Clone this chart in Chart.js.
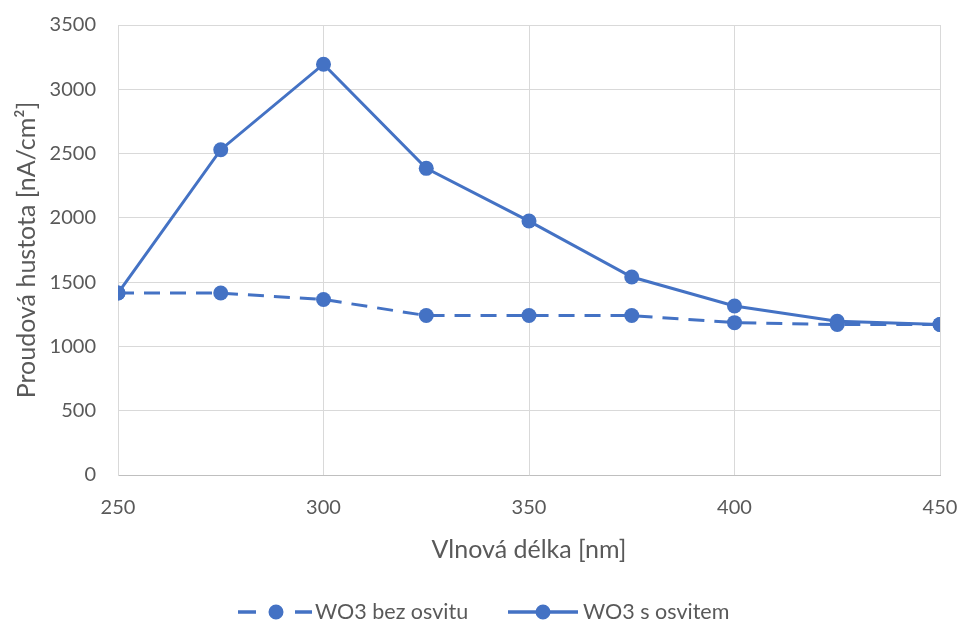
<!DOCTYPE html>
<html>
<head>
<meta charset="utf-8">
<script src="https://cdn.jsdelivr.net/npm/chart.js@4/dist/chart.umd.min.js"></script>
<style>
  html, body { margin: 0; padding: 0; background: #fff; }
  #wrap { width: 959px; height: 625px; position: relative; }
</style>
</head>
<body>
<div id="wrap"><canvas id="chart"></canvas></div>
<script>
// wavelengths (nm)
var wavelengths = [250, 275, 300, 325, 350, 375, 400, 425, 450];
// current density without light
var bezOsvitu = [1415, 1415, 1365, 1240, 1240, 1240, 1185, 1170, 1170];
// current density with light
var sOsvitem = [1415, 2530, 3195, 2385, 1975, 1540, 1315, 1195, 1170];

var seriesNames = ['WO3 bez osvitu', 'WO3 s osvitem'];
var blue = '#4472C4';
var fontFam = 'Lato, "Open Sans", sans-serif';

function toPoints(ys) {
  var pts = [];
  for (var i = 0; i < wavelengths.length; i++) {
    pts.push({ x: wavelengths[i], y: ys[i] });
  }
  return pts;
}

// legend drawn on canvas so it can show line + marker like the original
var legendPlugin = {
  id: 'lineLegend',
  afterDraw: function(chart) {
    var ctx = chart.ctx;
    var y = 612;
    ctx.save();
    ctx.font = '21.5px ' + fontFam;
    ctx.textBaseline = 'middle';
    ctx.strokeStyle = blue;
    ctx.lineWidth = 3.5;
    // dashed series sample
    ctx.beginPath();
    ctx.moveTo(238, y); ctx.lineTo(256, y);
    ctx.moveTo(295, y); ctx.lineTo(312, y);
    // solid series sample
    ctx.moveTo(508, y); ctx.lineTo(578, y);
    ctx.stroke();
    ctx.fillStyle = blue;
    ctx.beginPath();
    ctx.arc(276, y, 7.5, 0, Math.PI * 2);
    ctx.arc(543, y, 7.5, 0, Math.PI * 2);
    ctx.fill();
    ctx.fillStyle = '#595959';
    ctx.fillText(seriesNames[0], 315, y);
    ctx.fillText(seriesNames[1], 583, y);
    ctx.restore();
  }
};

var ctx = document.getElementById('chart').getContext('2d');
new Chart(ctx, {
  type: 'line',
  data: {
    datasets: [
      {
        label: seriesNames[0],
        data: toPoints(bezOsvitu),
        borderColor: blue,
        backgroundColor: blue,
        borderWidth: 3,
        borderDash: [16, 10],
        pointRadius: 7.5,
        pointHoverRadius: 7.5,
        pointBorderWidth: 0,
        tension: 0
      },
      {
        label: seriesNames[1],
        data: toPoints(sOsvitem),
        borderColor: blue,
        backgroundColor: blue,
        borderWidth: 3,
        pointRadius: 7.5,
        pointHoverRadius: 7.5,
        pointBorderWidth: 0,
        tension: 0
      }
    ]
  },
  options: {
    responsive: true,
    maintainAspectRatio: false,
    animation: false,
    layout: { padding: { left: 12, right: 19, top: 25, bottom: 50 } },
    plugins: {
      legend: { display: false },
      tooltip: { enabled: false }
    },
    scales: {
      x: {
        type: 'linear',
        min: 250,
        max: 450,
        ticks: {
          stepSize: 50,
          color: '#595959',
          font: { family: fontFam, size: 20 },
          padding: 21,
          callback: function(v) { return String(v); }
        },
        grid: { color: '#d9d9d9', lineWidth: 1, drawTicks: false },
        border: { color: '#bfbfbf', width: 1 },
        title: {
          display: true,
          text: 'Vlnová délka [nm]',
          color: '#595959',
          font: { family: fontFam, size: 25 },
          padding: { top: 10, bottom: 10 }
        },
        afterFit: function(scale) {
          scale.height = 100;
          scale.paddingLeft = 0;
          scale.paddingRight = 0;
        }
      },
      y: {
        min: 0,
        max: 3500,
        ticks: {
          stepSize: 500,
          color: '#595959',
          font: { family: fontFam, size: 20 },
          padding: 22,
          callback: function(v) { return String(v); }
        },
        grid: { color: '#d9d9d9', lineWidth: 1, drawTicks: false },
        border: { color: '#d9d9d9', width: 1 },
        title: {
          display: true,
          text: 'Proudová hustota [nA/cm²]',
          color: '#595959',
          font: { family: fontFam, size: 25 },
          padding: { top: 0, bottom: 4 }
        },
        afterFit: function(scale) {
          scale.width = 106;
          scale.paddingTop = 0;
          scale.paddingBottom = 0;
        }
      }
    }
  },
  plugins: [legendPlugin]
});
</script>
</body>
</html>
